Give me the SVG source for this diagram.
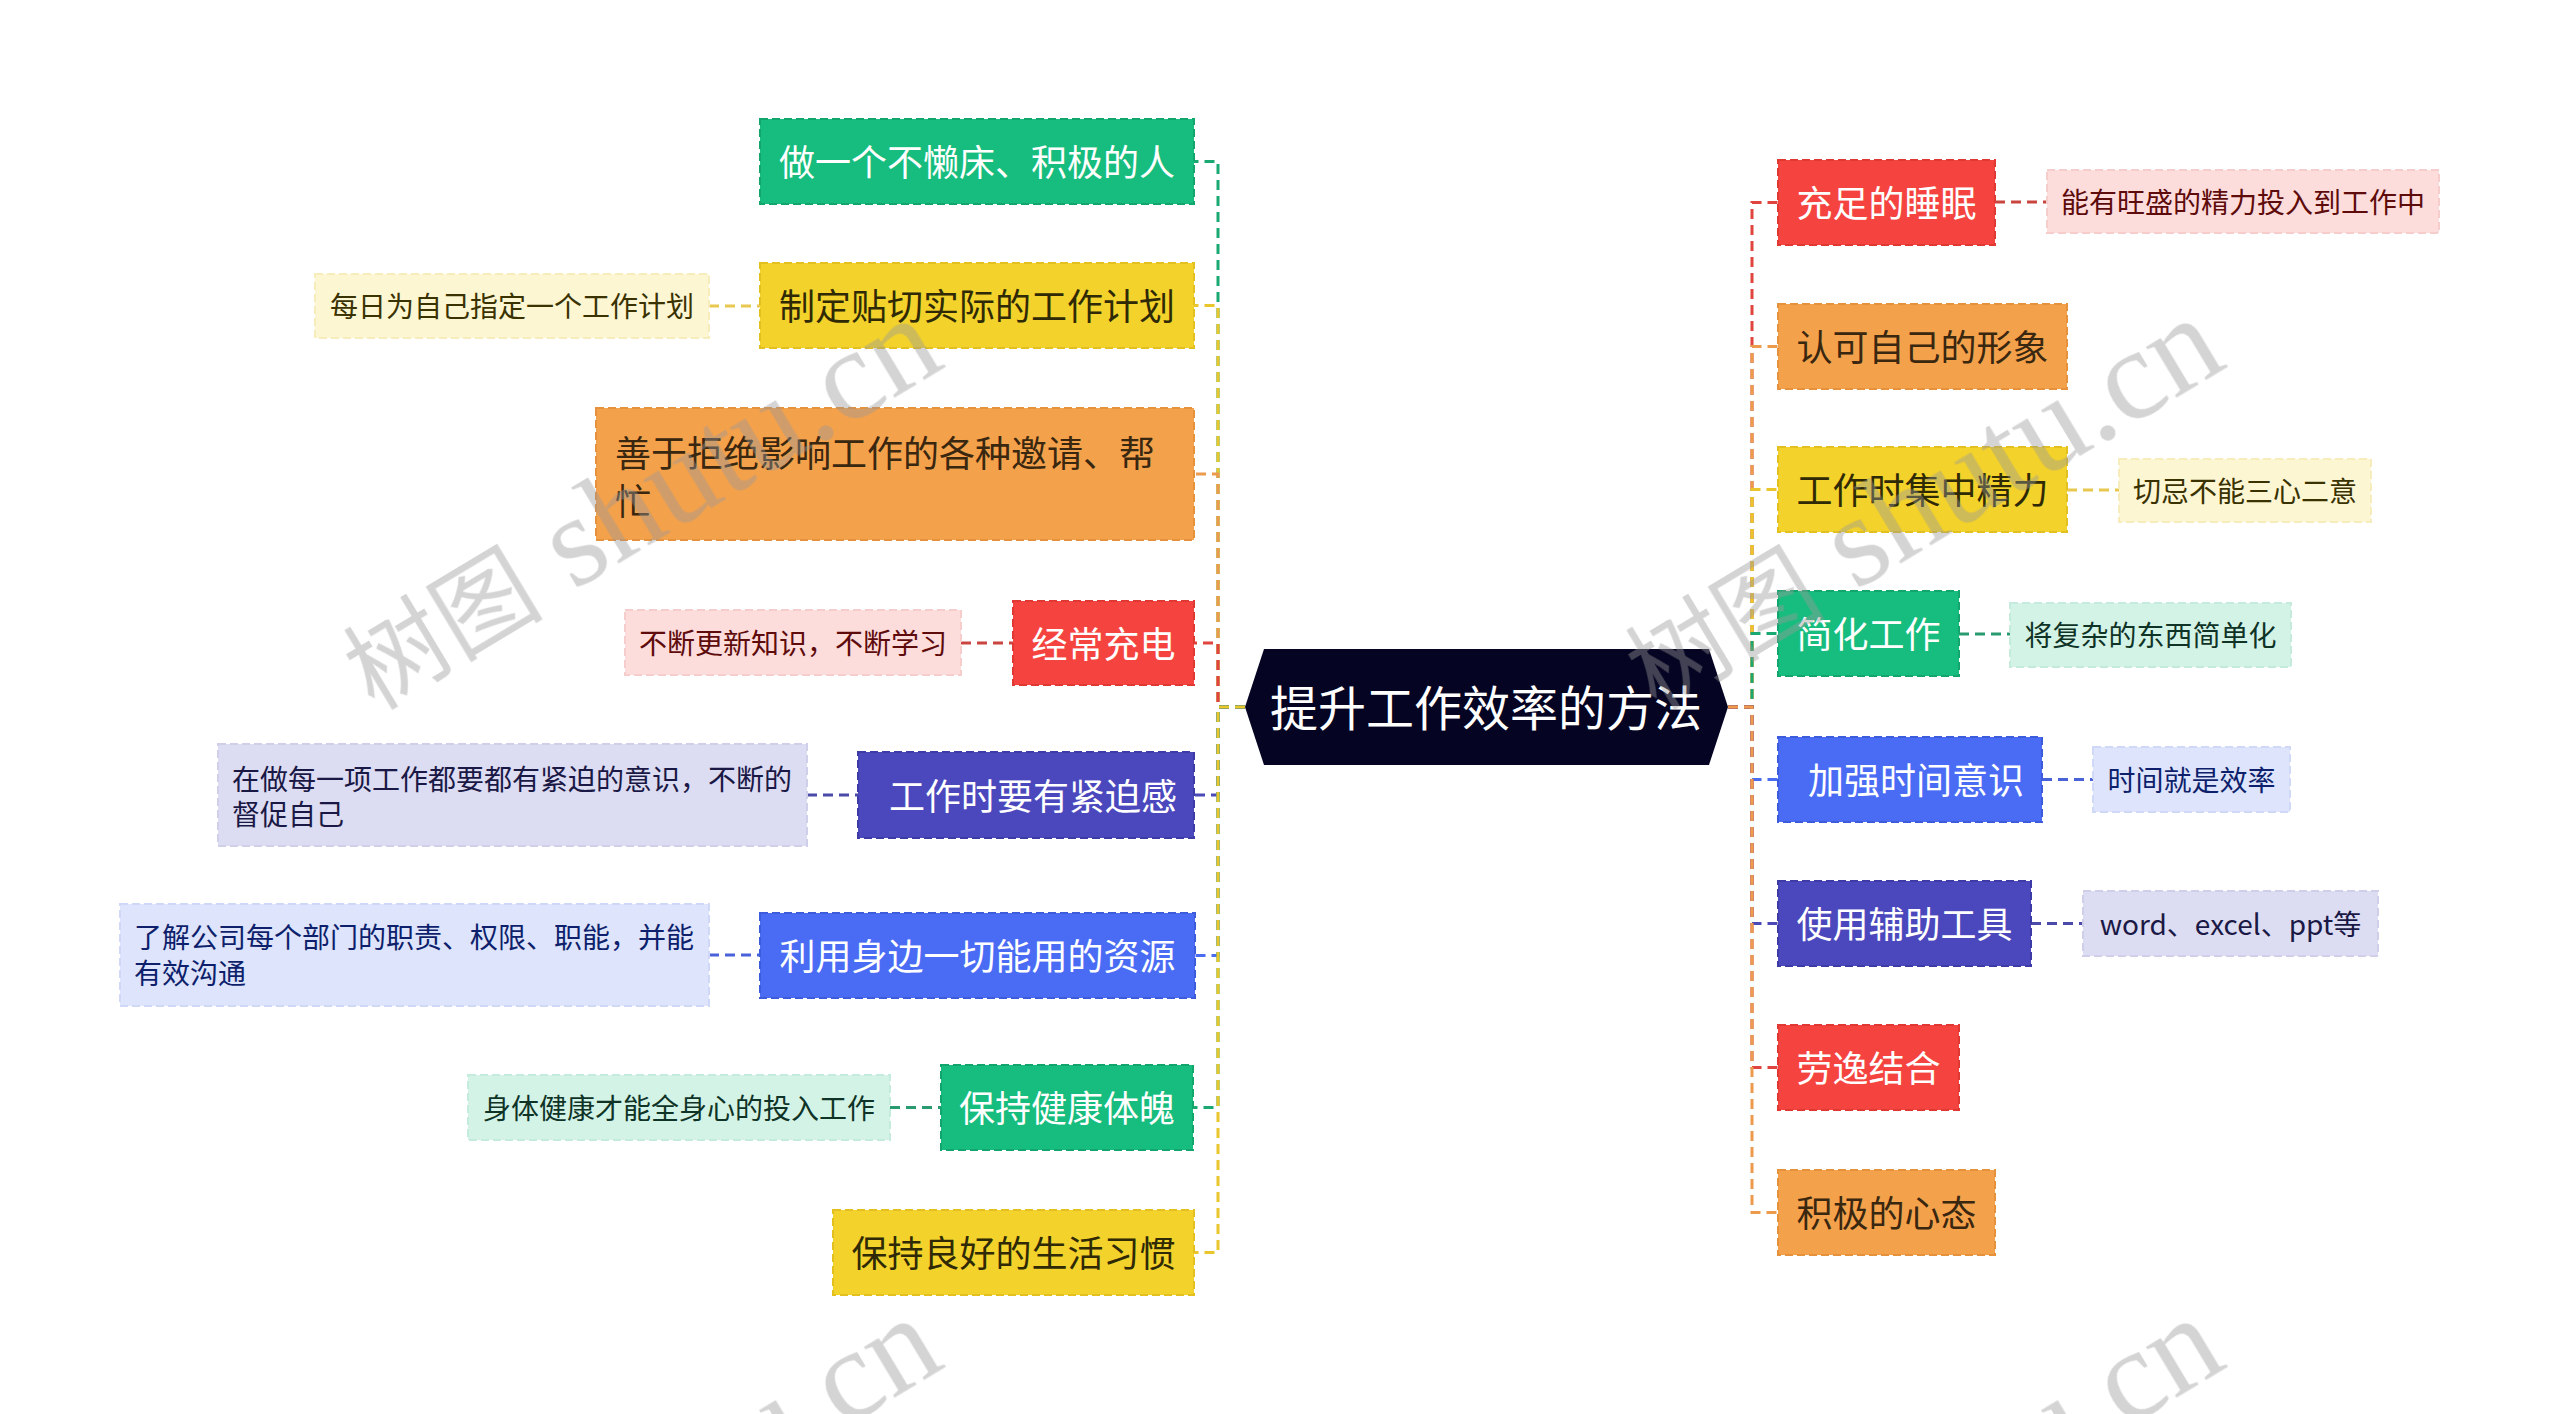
<svg xmlns="http://www.w3.org/2000/svg" width="2560" height="1414" viewBox="0 0 2560 1414">
<style>
text{font-family:"Noto Sans CJK SC","Noto Sans",sans-serif;dominant-baseline:central}
.m{font-size:36px}
.s{font-size:28px}
.n rect{stroke-width:2;stroke-dasharray:8 4}
.c path{fill:none;stroke-width:3;stroke-dasharray:10 6}
.w{fill:#9a9a9a;opacity:0.42}
.w text{dominant-baseline:alphabetic}
</style>
<rect width="2560" height="1414" fill="#ffffff"/>
<g id="connectors" class="c">
<path d="M1245 707H1218V161.5H1194" stroke="#1aa873"/>
<path d="M1245 707H1218V305.5H1194" stroke="#e8c62c"/>
<path d="M1245 707H1218V474H1194" stroke="#ec9a4c"/>
<path d="M1245 707H1218V643H1194" stroke="#e0443e"/>
<path d="M1245 707H1218V795H1194" stroke="#4b48b8"/>
<path d="M1245 707H1218V955.5H1195" stroke="#4a6cf0"/>
<path d="M1245 707H1218V1107.5H1193" stroke="#1aa873"/>
<path d="M1245 707H1218V1252.5H1194" stroke="#e8c62c"/>
<path d="M1728 707H1752V202.5H1778" stroke="#e0443e"/>
<path d="M1728 707H1752V346.5H1778" stroke="#ec9a4c"/>
<path d="M1728 707H1752V489.5H1778" stroke="#e8c62c"/>
<path d="M1728 707H1752V633.5H1778" stroke="#1aa873"/>
<path d="M1728 707H1752V779.5H1778" stroke="#4a6cf0"/>
<path d="M1728 707H1752V923.5H1778" stroke="#4b48b8"/>
<path d="M1728 707H1752V1067.5H1778" stroke="#e0443e"/>
<path d="M1728 707H1752V1212.5H1778" stroke="#ec9a4c"/>
<path d="M709 306H760" stroke="#e8c84e"/>
<path d="M961 643H1013" stroke="#c9453f"/>
<path d="M807 795H858" stroke="#4b4aa8"/>
<path d="M709 955H760" stroke="#4a62d8"/>
<path d="M890 1107.5H941" stroke="#2a9a70"/>
<path d="M1995 202H2047" stroke="#c9453f"/>
<path d="M2067 490H2119" stroke="#e8c84e"/>
<path d="M1959 634H2010" stroke="#2a9a70"/>
<path d="M2042 779.5H2093" stroke="#4a62d8"/>
<path d="M2031 923.5H2083" stroke="#4b4aa8"/>
</g>
<g id="center">
<polygon points="1245,707 1264,649 1709,649 1728,707 1709,765 1264,765" fill="#050523"/>
<text x="1486" y="705" font-size="48" fill="#ffffff" text-anchor="middle">提升工作效率的方法</text>
</g>
<g id="L1" class="n"><rect x="760" y="119" width="434" height="85" fill="#17bd7e" stroke="#12a56c"/><text class="m" x="977" y="160" fill="#ffffff" text-anchor="middle">做一个不懒床、积极的人</text></g>
<g id="L2" class="n"><rect x="760" y="263" width="434" height="85" fill="#f3d22b" stroke="#e2c020"/><text class="m" x="977" y="304" fill="#2f2a05" text-anchor="middle">制定贴切实际的工作计划</text></g>
<g id="L2s" class="n"><rect x="315" y="274" width="394" height="64" fill="#fdf6d3" stroke="#f6ecbc"/><text class="s" x="512" y="305" fill="#3a3200" text-anchor="middle">每日为自己指定一个工作计划</text></g>
<g id="L3" class="n"><rect x="596" y="408" width="598" height="132" fill="#f4a14b" stroke="#e6913c"/><text class="m" x="615" y="451" fill="#3a2710">善于拒绝影响工作的各种邀请、帮</text><text class="m" x="615" y="499" fill="#3a2710">忙</text></g>
<g id="L4" class="n"><rect x="1013" y="601" width="181" height="84" fill="#f5443f" stroke="#e03833"/><text class="m" x="1103.5" y="641.5" fill="#ffffff" text-anchor="middle">经常充电</text></g>
<g id="L4s" class="n"><rect x="625" y="610" width="336" height="65" fill="#fddcdc" stroke="#f6cdcd"/><text class="s" x="793" y="641.5" fill="#5e0b0b" text-anchor="middle">不断更新知识，不断学习</text></g>
<g id="L5" class="n"><rect x="858" y="752" width="336" height="86" fill="#4b48bd" stroke="#3e3ba6"/><text class="m" x="889" y="793.5" fill="#ffffff" textLength="288" lengthAdjust="spacingAndGlyphs">工作时要有紧迫感</text></g>
<g id="L5s" class="n"><rect x="218" y="744" width="589" height="102" fill="#dcdcf2" stroke="#cfcfea"/><text class="s" x="232" y="778" fill="#1a1845">在做每一项工作都要都有紧迫的意识，不断的</text><text class="s" x="232" y="813" fill="#1a1845">督促自己</text></g>
<g id="L6" class="n"><rect x="760" y="913" width="435" height="85" fill="#4a6cf5" stroke="#3c5cdc"/><text class="m" x="977.5" y="954" fill="#ffffff" text-anchor="middle">利用身边一切能用的资源</text></g>
<g id="L6s" class="n"><rect x="120" y="904" width="589" height="102" fill="#dde4fc" stroke="#cfd8f6"/><text class="s" x="134" y="936" fill="#0e1f6b">了解公司每个部门的职责、权限、职能，并能</text><text class="s" x="134" y="972" fill="#0e1f6b">有效沟通</text></g>
<g id="L7" class="n"><rect x="941" y="1065" width="252" height="85" fill="#17bd7e" stroke="#12a56c"/><text class="m" x="1067" y="1106" fill="#ffffff" text-anchor="middle">保持健康体魄</text></g>
<g id="L7s" class="n"><rect x="468" y="1075" width="422" height="65" fill="#d3f3e6" stroke="#c4ebdb"/><text class="s" x="679" y="1106.5" fill="#0f3326" text-anchor="middle">身体健康才能全身心的投入工作</text></g>
<g id="L8" class="n"><rect x="833" y="1210" width="361" height="85" fill="#f3d22b" stroke="#e2c020"/><text class="m" x="1013.5" y="1251" fill="#2f2a05" text-anchor="middle">保持良好的生活习惯</text></g>
<g id="R1" class="n"><rect x="1778" y="160" width="217" height="85" fill="#f5443f" stroke="#e03833"/><text class="m" x="1886.5" y="201" fill="#ffffff" text-anchor="middle">充足的睡眠</text></g>
<g id="R1s" class="n"><rect x="2047" y="170" width="392" height="63" fill="#fddcdc" stroke="#f6cdcd"/><text class="s" x="2243" y="200.5" fill="#5e0b0b" text-anchor="middle">能有旺盛的精力投入到工作中</text></g>
<g id="R2" class="n"><rect x="1778" y="304" width="289" height="85" fill="#f4a14b" stroke="#e6913c"/><text class="m" x="1922.5" y="345" fill="#3a2710" text-anchor="middle">认可自己的形象</text></g>
<g id="R3" class="n"><rect x="1778" y="447" width="289" height="85" fill="#f3d22b" stroke="#e2c020"/><text class="m" x="1922.5" y="488" fill="#2f2a05" text-anchor="middle">工作时集中精力</text></g>
<g id="R3s" class="n"><rect x="2119" y="459" width="252" height="63" fill="#fdf6d3" stroke="#f6ecbc"/><text class="s" x="2245" y="489.5" fill="#3a3200" text-anchor="middle">切忌不能三心二意</text></g>
<g id="R4" class="n"><rect x="1778" y="591" width="181" height="85" fill="#17bd7e" stroke="#12a56c"/><text class="m" x="1868.5" y="632" fill="#ffffff" text-anchor="middle">简化工作</text></g>
<g id="R4s" class="n"><rect x="2010" y="603" width="281" height="64" fill="#d3f3e6" stroke="#c4ebdb"/><text class="s" x="2150.5" y="634" fill="#0f3326" text-anchor="middle">将复杂的东西简单化</text></g>
<g id="R5" class="n"><rect x="1778" y="737" width="264" height="85" fill="#4a6cf5" stroke="#3c5cdc"/><text class="m" x="2024" y="778" fill="#ffffff" text-anchor="end">加强时间意识</text></g>
<g id="R5s" class="n"><rect x="2093" y="747" width="197" height="65" fill="#dde4fc" stroke="#cfd8f6"/><text class="s" x="2191.5" y="778.5" fill="#0e1f6b" text-anchor="middle">时间就是效率</text></g>
<g id="R6" class="n"><rect x="1778" y="881" width="253" height="85" fill="#4b48bd" stroke="#3e3ba6"/><text class="m" x="1904.5" y="922" fill="#ffffff" text-anchor="middle">使用辅助工具</text></g>
<g id="R6s" class="n"><rect x="2083" y="891" width="295" height="65" fill="#dcdcf2" stroke="#cfcfea"/><text class="s" x="2230.5" y="922.5" fill="#1a1845" text-anchor="middle">word、excel、ppt等</text></g>
<g id="R7" class="n"><rect x="1778" y="1025" width="181" height="85" fill="#f5443f" stroke="#e03833"/><text class="m" x="1868.5" y="1066" fill="#ffffff" text-anchor="middle">劳逸结合</text></g>
<g id="R8" class="n"><rect x="1778" y="1170" width="217" height="85" fill="#f4a14b" stroke="#e6913c"/><text class="m" x="1886.5" y="1211" fill="#3a2710" text-anchor="middle">积极的心态</text></g>
<g id="watermark" class="w">
<text transform="translate(374,711) rotate(-31)"><tspan font-size="100">树图</tspan><tspan font-family="Liberation Serif,serif" font-size="130"> shutu.cn</tspan></text>
<text transform="translate(1656,711) rotate(-31)"><tspan font-size="100">树图</tspan><tspan font-family="Liberation Serif,serif" font-size="130"> shutu.cn</tspan></text>
<text transform="translate(374,1711) rotate(-31)"><tspan font-size="100">树图</tspan><tspan font-family="Liberation Serif,serif" font-size="130"> shutu.cn</tspan></text>
<text transform="translate(1656,1711) rotate(-31)"><tspan font-size="100">树图</tspan><tspan font-family="Liberation Serif,serif" font-size="130"> shutu.cn</tspan></text>
</g>
</svg>
